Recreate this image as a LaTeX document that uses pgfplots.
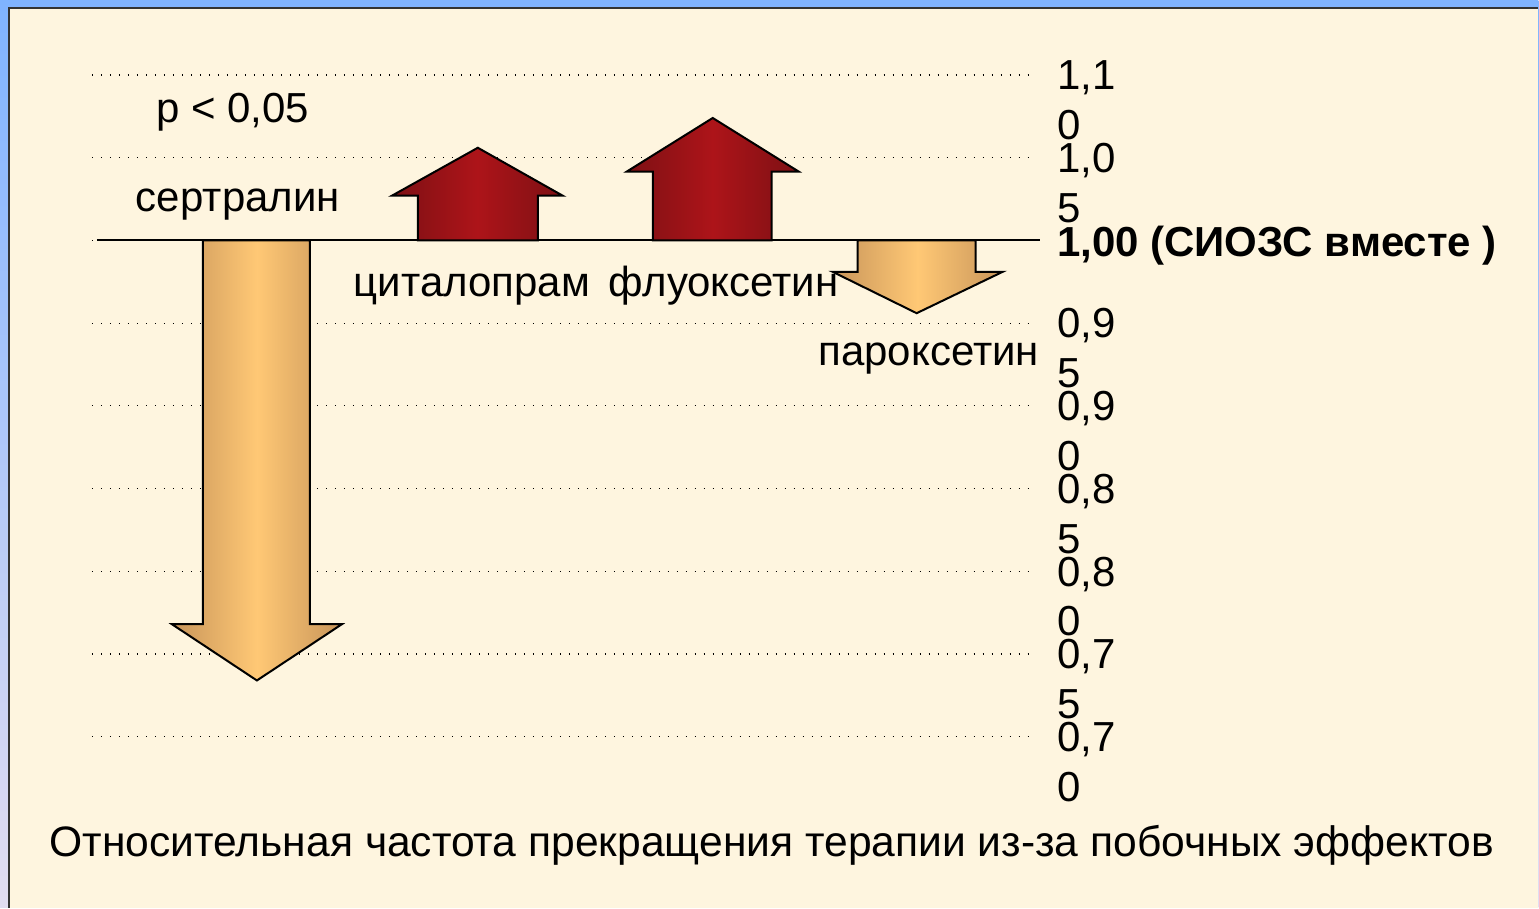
\documentclass[border=0pt]{standalone}
\usepackage{pgfplots}
\pgfplotsset{compat=1.18}
\usepackage{fontspec}
\setmainfont{Liberation Sans}
\definecolor{cream}{HTML}{FEF5DF}
\definecolor{frameblue}{HTML}{7FB3FF}
\definecolor{framelav}{HTML}{E2DDF2}
\definecolor{redEdge}{HTML}{7D1014}
\definecolor{redMid}{HTML}{AD1419}
\definecolor{tanEdge}{HTML}{C8955A}
\definecolor{tanMid}{HTML}{FFC875}
\begin{document}
\begin{tikzpicture}
\begin{axis}[
  set layers,
  scale only axis, width=470.5pt, height=331pt,
  xmin=92, xmax=1033, ymin=0.70, ymax=1.10,
  clip=false,
  hide x axis,
  axis y line*=right,
  y axis line style={draw=none},
  major tick length=0pt,
  ytick={0.70,0.75,0.80,0.85,0.90,0.95,1.00,1.05,1.10},
  yticklabels={{0,7\\0},{0,7\\5},{0,8\\0},{0,8\\5},{0,9\\0},{0,9\\5},{\bfseries 1,00 (СИОЗС вместе )},{1,0\\5},{1,1\\0}},
  yticklabel style={font=\fontsize{21}{25}\selectfont, align=left, anchor=north west, inner sep=0pt, xshift=12pt, yshift=7.5pt},
  ymajorgrids,
  major grid style={black, line width=0.6pt, dash pattern=on 0.6pt off 3.9pt},
  every axis plot/.append style={mark=none},
]
% slide background (pixel x, data y)
\begin{pgfonlayer}{axis background}
\shade[top color=frameblue, bottom color=framelav] (axis cs:0,0.59668) rectangle (axis cs:1539,1.14532);
\fill[cream] (axis cs:9,0.59668) rectangle (axis cs:1539,1.14048);
\draw[black!80, line width=0.6pt] (axis cs:9,0.59668) -- (axis cs:9,1.14048) -- (axis cs:1539,1.14048);
\end{pgfonlayer}
% baseline at 1.00
\addplot[black, line width=1pt] coordinates {(97,1.00) (1040,1.00)};
% sertraline (down)
\addplot[draw=black, line width=1pt, line join=miter, left color=tanEdge, right color=tanEdge, middle color=tanMid]
  coordinates {(203,1.00) (310,1.00) (310,0.768) (342,0.768) (257,0.734) (172,0.768) (203,0.768)} -- cycle;
% citalopram (up)
\addplot[draw=black, line width=1pt, line join=miter, left color=redEdge, right color=redEdge, middle color=redMid]
  coordinates {(418,1.00) (418,1.027) (392,1.027) (478,1.056) (563,1.027) (538,1.027) (538,1.00)} -- cycle;
% fluoxetine (up)
\addplot[draw=black, line width=1pt, line join=miter, left color=redEdge, right color=redEdge, middle color=redMid]
  coordinates {(653,1.00) (653,1.0416) (627,1.0416) (713,1.074) (799,1.0416) (772,1.0416) (772,1.00)} -- cycle;
% paroxetine (down)
\addplot[draw=black, line width=1pt, line join=miter, left color=tanEdge, right color=tanEdge, middle color=tanMid]
  coordinates {(858,1.00) (976,1.00) (976,0.981) (1003,0.981) (917,0.956) (833,0.981) (858,0.981)} -- cycle;
% labels
\begin{scope}[every node/.style={font=\fontsize{21}{25}\selectfont, inner sep=0pt, anchor=base}]
\node at (axis cs:233,1.0710) {p < 0,05};
\node at (axis cs:238,1.0172) {сертралин};
\node at (axis cs:472,0.9659) {циталопрам};
\node at (axis cs:724,0.9659) {флуоксетин};
\node at (axis cs:929,0.9242) {пароксетин};
\node[font=\fontsize{21.3}{25}\selectfont] at (axis cs:772,0.6275) {Относительная частота прекращения терапии из-за побочных эффектов};
\end{scope}
\end{axis}
\end{tikzpicture}
\end{document}
